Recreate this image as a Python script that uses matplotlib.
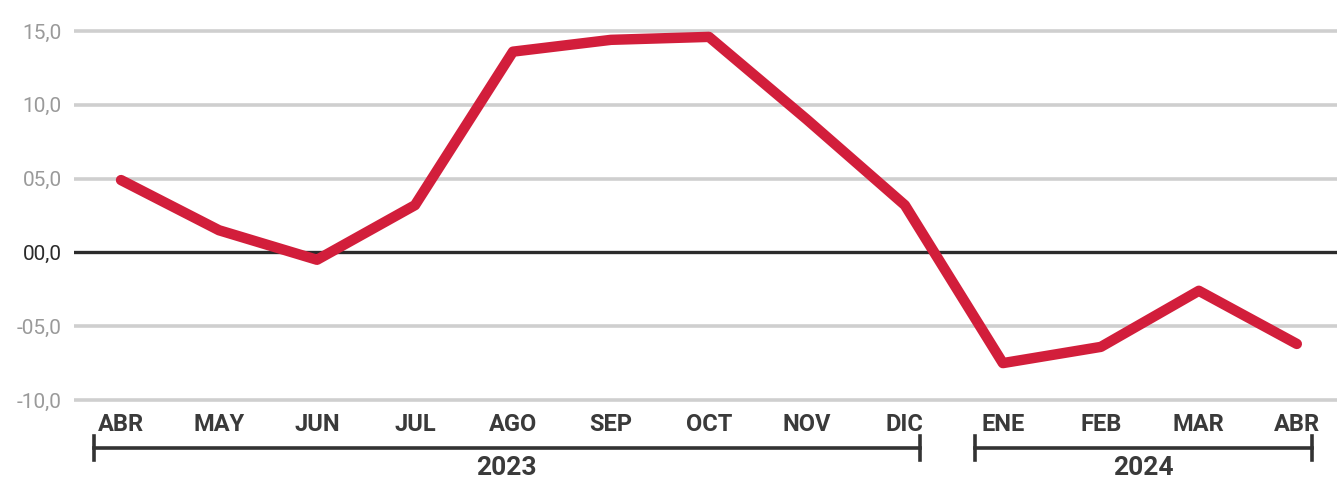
import matplotlib
matplotlib.use("Agg")
import matplotlib.pyplot as plt
import matplotlib.transforms as mtransforms

months = ["ABR", "MAY", "JUN", "JUL", "AGO", "SEP", "OCT", "NOV", "DIC",
          "ENE", "FEB", "MAR", "ABR"]
values = [4.9, 1.5, -0.5, 3.2, 13.6, 14.4, 14.6, 9.0, 3.2,
          -7.5, -6.4, -2.6, -6.2]
years = ["2023", "2024"]
year_ranges = [(0, 8), (9, 12)]   # first and last month index of each year
yticks = [15, 10, 5, 0, -5, -10]
ytick_labels = ["15,0", "10,0", "05,0", "00,0", "-05,0", "-10,0"]

plt.rcParams['font.family'] = ['Roboto', 'DejaVu Sans']

W, H = 1337, 482
fig = plt.figure(figsize=(W / 100, H / 100), dpi=100)
# axes in pixel units: left 74, right edge, vertical 23.6..407.4
ax = fig.add_axes([74 / W, 1 - 407.4 / H, 1 - 74 / W, (407.4 - 23.6) / H])

x = list(range(len(months)))
ax.plot(x, values, color="#D21E3B", lw=7.5, solid_capstyle="round",
        solid_joinstyle="round", zorder=3)

ax.set_xlim(-0.48, 12.41)
ax.set_ylim(-10.5, 15.5)

for v in yticks:
    if v == 0:
        ax.axhline(v, color="#2b2b2b", lw=2.4, zorder=2)
    else:
        ax.axhline(v, color="#cfcfcf", lw=2.6, zorder=1)

ax.set_yticks(yticks)
ax.set_yticklabels(ytick_labels, fontsize=15)
for lab, v in zip(ax.get_yticklabels(), yticks):
    lab.set_color("#2b2b2b" if v == 0 else "#9a9a9a")
ax.tick_params(axis="y", length=0, pad=9)

ax.set_xticks(x)
ax.set_xticklabels(months, fontsize=17, fontweight="bold", color="#3a3a3a")
ax.tick_params(axis="x", length=0, pad=4)

for s in ax.spines.values():
    s.set_visible(False)

# year brackets below the month labels
trans = mtransforms.blended_transform_factory(ax.transData, ax.transAxes)
y_line = -0.106
y_tick = 0.031
for name, (a, b) in zip(years, year_ranges):
    x0, x1 = a - 0.28, b + 0.15
    ax.plot([x0, x1], [y_line, y_line], color="#333333", lw=2.6,
            transform=trans, clip_on=False)
    for xe in (x0, x1):
        ax.plot([xe, xe], [y_line - y_tick, y_line + y_tick], color="#333333",
                lw=2.6, transform=trans, clip_on=False)
    ax.text((x0 + x1) / 2, y_line - 0.02, name, transform=trans,
            ha="center", va="top", fontsize=19, fontweight="bold",
            color="#3a3a3a")

fig.savefig("out.png", dpi=100)
